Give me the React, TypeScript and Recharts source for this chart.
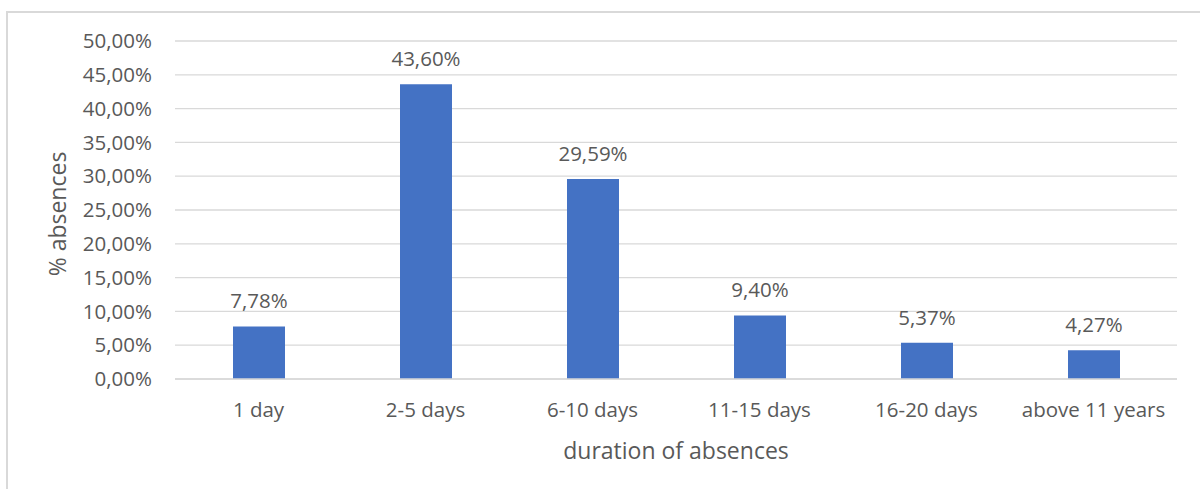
import React from 'react';
import { BarChart, Bar, XAxis, YAxis, CartesianGrid, LabelList } from 'recharts';

const durations = ['1 day', '2-5 days', '6-10 days', '11-15 days', '16-20 days', 'above 11 years'];
const absenceShares = [7.78, 43.6, 29.59, 9.4, 5.37, 4.27];
const percentTicks = [0, 5, 10, 15, 20, 25, 30, 35, 40, 45, 50];

const data = durations.map((duration, i) => ({ duration, share: absenceShares[i] }));

const FONT = '"Open Sans", sans-serif';
const TEXT = '#595959';
const GRID = '#d9d9d9';

const fmtPct = (v: number) => v.toFixed(2).replace('.', ',') + '%';

const App: React.FC = () => {
  return (
    <div
      style={{
        position: 'absolute',
        left: 0,
        top: 0,
        width: 1200,
        height: 489,
        overflow: 'hidden',
        background: '#fff',
        fontFamily: FONT,
      }}
    >
      {/* chart frame */}
      <div
        style={{
          position: 'absolute',
          left: 6,
          top: 11,
          width: 1220,
          height: 520,
          border: `2px solid ${GRID}`,
        }}
      />
      <div style={{ position: 'absolute', left: 0, top: 0 }}>
        <BarChart
          width={1200}
          height={489}
          data={data}
          margin={{ top: 41, right: 23, bottom: 80, left: 10 }}
        >
          <CartesianGrid vertical={false} stroke={GRID} strokeWidth={1.3} />
          <XAxis
            dataKey="duration"
            height={30}
            tickLine={false}
            tickSize={0}
            tickMargin={23}
            axisLine={{ stroke: GRID, strokeWidth: 1.3 }}
            tick={{ fill: TEXT, fontSize: 20.5, fontFamily: FONT }}
            interval={0}
          />
          <YAxis
            width={165}
            domain={[0, 50]}
            ticks={percentTicks}
            tickFormatter={fmtPct}
            axisLine={false}
            tickLine={false}
            tickSize={0}
            tickMargin={23}
            tick={{ fill: TEXT, fontSize: 20.5, fontFamily: FONT }}
          />
          <Bar dataKey="share" fill="#4472C4" barSize={52} isAnimationActive={false}>
            <LabelList
              dataKey="share"
              position="top"
              offset={18}
              formatter={(v: number) => fmtPct(v)}
              style={{ fill: TEXT, fontSize: 20.5, fontFamily: FONT }}
            />
          </Bar>
        </BarChart>
      </div>
      <div
        style={{
          position: 'absolute',
          left: 57,
          top: 214,
          transform: 'translate(-50%, -50%) rotate(-90deg)',
          whiteSpace: 'nowrap',
          fontSize: 23,
          color: TEXT,
        }}
      >
        % absences
      </div>
      <div
        style={{
          position: 'absolute',
          left: 676,
          top: 450,
          transform: 'translate(-50%, -50%)',
          whiteSpace: 'nowrap',
          fontSize: 23,
          color: TEXT,
        }}
      >
        duration of absences
      </div>
    </div>
  );
};

export default App;
